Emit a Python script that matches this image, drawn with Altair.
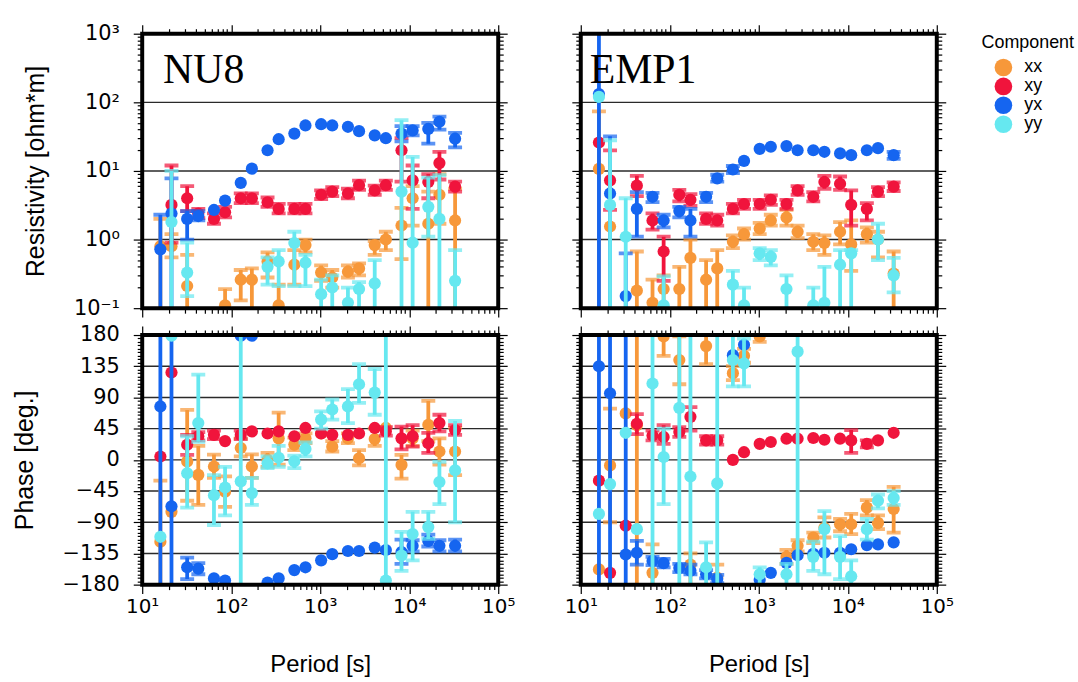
import altair as alt
import pandas as pd

N = None
periods = [16, 21.33, 32, 42.67, 64, 85.33, 128, 170.67, 256, 341.33, 512, 682.67,
           1024, 1365.33, 2048, 2730.67, 4096, 5461.33, 8192, 10922.67, 16384, 21845.33, 32768]
components = ["xx", "xy", "yx", "yy"]
comp_colors = ["#F7983A", "#F0143C", "#1565F0", "#66E8F0"]

# ---------------- NU8 apparent resistivity ----------------
nu8_rho_xx = [0.8, 0.8, 0.21, N, N, 0.11, 0.26, 0.26, 0.48, 0.11, 0.43, 0.83, 0.33, 0.28, 0.34, 0.38, 0.83, 1.0, 1.6, 4.0, 1.7, 4.5, 1.9]
nu8_rho_xx_lo = [0.05, 0.55, 0.05, N, N, 0.05, 0.13, 0.05, 0.28, 0.05, 0.22, 0.65, 0.25, 0.2, 0.28, 0.3, 0.6, 0.7, 0.52, 1.6, 0.05, 1.7, 0.05]
nu8_rho_xx_hi = [2.0, 1.2, 0.6, N, N, 0.19, 0.36, 0.38, 0.65, 0.22, 0.7, 1.0, 0.42, 0.36, 0.42, 0.45, 0.95, 1.3, 2.9, 6.0, 5.0, 9.0, 5.5]
nu8_rho_xy = [N, 3.2, 4.0, 2.4, 2.0, 2.5, 4.0, 4.0, 3.5, 2.8, 2.8, 2.8, 4.5, 5.0, 4.7, 6.2, 5.2, 6.2, 20, 7.3, 6.9, 13, 5.9]
nu8_rho_xy_lo = [N, 0.9, 2.6, 2.05, 1.7, 2.1, 3.4, 3.4, 3.0, 2.4, 2.4, 2.4, 3.9, 4.3, 4.0, 5.3, 4.5, 5.3, 7.0, 2.8, 4.0, 7.5, 5.0]
nu8_rho_xy_hi = [N, 12, 6.0, 2.8, 2.4, 3.0, 4.7, 4.7, 4.1, 3.3, 3.3, 3.3, 5.2, 5.8, 5.5, 7.2, 6.1, 7.2, 30, 12, 9.0, 19, 7.0]
nu8_rho_yx = [0.72, 2.4, 2.0, 2.2, 2.7, 3.7, 6.7, 10.8, 20, 29, 35, 46, 48, 46, 44, 38, 33, 30, 35, 39, 41, 52, 29.5]
nu8_rho_yx_lo = [0.05, 0.05, 1.0, 1.9, N, N, N, N, N, N, N, N, N, N, N, N, N, N, 27, 33, 25, 40, 22]
nu8_rho_yx_hi = [2.3, 7.8, 2.6, 2.6, N, N, N, N, N, N, N, N, N, N, N, N, N, N, 45, 45, 50, 62, 36]
nu8_rho_yy = [N, 1.8, 0.33, N, N, N, N, N, 0.4, 0.48, 0.89, 0.46, 0.16, 0.2, 0.12, 0.19, 0.23, N, 5.0, 0.9, 3.0, 2.0, 0.25]
nu8_rho_yy_lo = [N, 0.05, 0.15, N, N, N, N, N, 0.22, 0.21, 0.21, 0.21, 0.05, 0.05, 0.05, 0.05, 0.05, N, 0.05, 0.05, 1.1, 0.05, 0.05]
nu8_rho_yy_hi = [N, 10, 0.9, N, N, N, N, N, 0.55, 0.7, 1.3, 0.6, 0.26, 0.3, 0.2, 0.24, 0.5, N, 55, 16, 8.0, 8.7, 0.7]

# ---------------- NU8 phase ----------------
nu8_ph_xx = [-118, -75, -2.5, -21.7, -9.7, -46, 17, -9.7, 0, 31, 22, 31, 38, 19, 31, 2.3, 30, 46, -7.3, 31, 50.6, 12, 12]
nu8_ph_xx_lo = [-185, N, -59, -65, -26, -68, 5, -26, -10, -7, 14, 24, N, 12, 24, -8, 20, N, -27, 20, 27, -7, -22]
nu8_ph_xx_hi = [-30, N, 72, 20, 7.6, -24, 31, 8, 10, 68, 32, 38, N, 27, 38, 14, 45, N, 7, 42, 85, 31, 46]
nu8_ph_xy = [4.8, 126, 21.8, 34, 36, 27, 36, 41, 38, 41, 34, 46, 38, 36, 36, 38, 46, 41, 31, 34, 24, 53, 43]
nu8_ph_xy_lo = [N, N, 7, 28, 30, N, 30, N, N, N, N, N, N, N, N, N, N, 35, 15, 19, 10, 41, 36]
nu8_ph_xy_hi = [N, N, 36, 40, 42, N, 42, N, N, N, N, N, N, N, N, N, N, 47, 48, 50, 39, 65, 50]
nu8_ph_yx = [77, -67, -155, -157, -171, -174, 179, 179, -177, -171, -159, -155, -145, -136, -131.5, -131.5, -126.6, -130, -133, -124, -117, -124, -124]
nu8_ph_yx_lo = [-185, -185, -172, -165, N, N, N, N, N, N, N, N, N, N, N, N, N, N, -150, -132, -125, -132, -132]
nu8_ph_yx_hi = [185, 185, -141, -149, N, N, N, N, N, N, N, N, N, N, N, N, N, N, -115, -116, -108, -116, -115]
nu8_ph_yy = [-111, 179, -19.4, 53, -51, -40, -31, -48, -5, 3, -2, 15.5, 58, 72.6, 77, 109, 97, -174, -138, -107, -97, -32, -15]
nu8_ph_yy_lo = [N, N, -69, 26, -94, -80, -185, -65, -12, -10, -12, 5, 45, 58, 53, 82, 65, -185, -160, -145, -114, -64, -90]
nu8_ph_yy_hi = [N, N, 34, 123, -22, -10, 185, -26, 5, 20, 6, 25, 70, 87, 102, 138, 131, 185, -104, -75, -75, -3, 56]

# ---------------- EMP1 apparent resistivity ----------------
emp_rho_xx = [10.7, 1.55, N, 0.18, 0.12, 0.19, 0.19, 0.54, 0.26, 0.38, 0.93, 1.2, 1.45, 1.9, 2.1, 1.3, 0.93, 0.89, 1.3, 0.85, 1.2, 1.0, 0.32]
emp_rho_xx_lo = [0.05, N, N, 0.05, 0.05, 0.05, 0.05, 0.05, 0.05, 0.05, 0.75, 1.0, 1.2, 1.6, 1.6, 1.05, 0.7, 0.6, 0.85, 0.35, 0.9, 0.55, 0.05]
emp_rho_xx_hi = [74, N, N, 0.67, 0.26, 0.3, 0.4, 1.0, 0.5, 0.7, 1.15, 1.45, 1.75, 2.3, 2.7, 1.6, 1.2, 1.15, 1.8, 1.9, 1.5, 1.3, 0.67]
emp_rho_xy = [26, 7.3, N, 6.1, 1.9, 0.67, 4.5, 3.8, 2.0, 1.9, 2.8, 3.3, 3.3, 3.8, 3.3, 5.2, 4.2, 6.9, 6.5, 3.2, 2.8, 5.0, 5.9]
emp_rho_xy_lo = [N, 2.7, N, 4.3, 1.4, 0.25, 3.6, 3.1, 1.7, 1.6, 2.4, 2.8, 2.8, 3.2, 2.8, 4.5, 3.6, 5.5, 5.3, 1.6, 1.9, 4.3, 5.1]
emp_rho_xy_hi = [N, 20, N, 8.5, 2.4, 1.1, 5.3, 4.6, 2.4, 2.3, 3.3, 3.8, 3.8, 4.4, 3.8, 6.0, 4.9, 8.5, 8.3, 5.2, 3.4, 5.8, 6.8]
emp_rho_yx = [132, 4.7, 0.15, 2.8, 4.2, 1.9, 2.6, 1.9, 4.2, 7.8, 10.5, 14, 21, 22.5, 23, 20, 20, 19, 18, 17, 20, 21.5, 17]
emp_rho_yx_lo = [0.05, 0.05, 0.05, 1.1, 3.5, 1.5, 2.1, 1.1, 3.5, 7.0, 9.3, N, N, N, N, N, N, N, N, N, N, N, 15]
emp_rho_yx_hi = [2000, 32, 0.63, 4.9, 4.8, 2.3, 3.0, 2.8, 4.8, 8.8, 11.8, N, N, N, N, N, N, N, N, N, N, N, 19]
emp_rho_yy = [120, 3.2, 1.1, N, N, 0.11, N, N, N, N, 0.22, 0.11, 0.63, 0.56, 0.19, N, 0.11, 0.12, 0.43, 0.63, N, 1.0, 0.3]
emp_rho_yy_lo = [N, 0.05, 0.05, N, N, 0.05, N, N, N, N, 0.05, 0.05, 0.5, 0.42, 0.05, N, 0.05, 0.05, 0.05, 0.05, N, 0.5, 0.17]
emp_rho_yy_hi = [N, 28, 4.0, N, N, 0.29, N, N, N, N, 0.35, 0.2, 0.75, 0.7, 0.3, N, 0.2, 0.4, 0.7, 0.7, N, 1.7, 0.54]

# ---------------- EMP1 phase ----------------
emp_ph_xx = [-158, -8, 67, 50, -163, 178, 144, -151, 164, -170, 125, 150, 178, N, -140, -124, -112, -98, -93, -93, -69, -91, -71]
emp_ph_xx_lo = [N, -90, N, -185, -185, 150, 109, -185, 138, -185, 115, 140, 170, N, -150, -132, -120, -112, -103, -107, -80, -100, -105]
emp_ph_xx_hi = [N, 74, N, 185, -122, 185, 178, -135, 185, -151, 135, 160, 185, N, -130, -116, -105, -83, -85, -78, -58, -80, -39]
emp_ph_xy = [-30, -163, -95, 52, 35, 33, 40, 62, 28, 28, 0, 11, 23, 25.7, 30.5, 30.5, 31.5, 29, 30.5, 28, 23, 28, 39]
emp_ph_xy_lo = [N, N, N, 37, 28, 23, 33, 42, 22, 22, N, N, N, N, N, N, N, N, N, 10, 18, N, N]
emp_ph_xy_hi = [N, N, N, 66, 42, 50, 47, 76, 34, 34, N, N, N, N, N, N, N, N, N, 43, 28, N, N]
emp_ph_yx = [135, 96, -136.5, -134, -146, -149, -156, -160, -165, -172, 151, 166, -173, -163, -148.6, -137.5, -135.5, -134, -134, -129, -123, -122, -119]
emp_ph_yx_lo = [-185, -185, -185, -151, -152, -155, -162, -165, -171, -178, N, N, N, N, N, N, N, N, N, N, N, N, N]
emp_ph_yx_hi = [185, 185, 185, -117, -140, -143, -150, -151, -159, -166, N, N, N, N, N, N, N, N, N, N, N, N, N]
emp_ph_yy = [-78, -35, 39, -100, 110, 4, 75, -24, -155, -34, 144, 139, -165, N, -165, 156, -140, -100, -140, -168, -100, -59, -55]
emp_ph_yy_lo = [N, N, N, N, -185, -64, -185, -185, -185, -185, 106, 106, -185, N, -185, -185, -160, -165, -172, -185, -115, -70, -65]
emp_ph_yy_hi = [N, N, N, N, 185, 45, 185, 185, -119, 185, 185, 175, -155, N, -150, 185, -118, -74, -110, -145, -85, -50, -45]

panels_data = {
    ("NU8", "rho"): {"xx": (nu8_rho_xx, nu8_rho_xx_lo, nu8_rho_xx_hi), "xy": (nu8_rho_xy, nu8_rho_xy_lo, nu8_rho_xy_hi),
                     "yx": (nu8_rho_yx, nu8_rho_yx_lo, nu8_rho_yx_hi), "yy": (nu8_rho_yy, nu8_rho_yy_lo, nu8_rho_yy_hi)},
    ("NU8", "phase"): {"xx": (nu8_ph_xx, nu8_ph_xx_lo, nu8_ph_xx_hi), "xy": (nu8_ph_xy, nu8_ph_xy_lo, nu8_ph_xy_hi),
                       "yx": (nu8_ph_yx, nu8_ph_yx_lo, nu8_ph_yx_hi), "yy": (nu8_ph_yy, nu8_ph_yy_lo, nu8_ph_yy_hi)},
    ("EMP1", "rho"): {"xx": (emp_rho_xx, emp_rho_xx_lo, emp_rho_xx_hi), "xy": (emp_rho_xy, emp_rho_xy_lo, emp_rho_xy_hi),
                      "yx": (emp_rho_yx, emp_rho_yx_lo, emp_rho_yx_hi), "yy": (emp_rho_yy, emp_rho_yy_lo, emp_rho_yy_hi)},
    ("EMP1", "phase"): {"xx": (emp_ph_xx, emp_ph_xx_lo, emp_ph_xx_hi), "xy": (emp_ph_xy, emp_ph_xy_lo, emp_ph_xy_hi),
                        "yx": (emp_ph_yx, emp_ph_yx_lo, emp_ph_yx_hi), "yy": (emp_ph_yy, emp_ph_yy_lo, emp_ph_yy_hi)},
}

# ---------------- axis tick definitions ----------------
x_ticks = [k * 10 ** n for n in range(1, 5) for k in range(1, 10)] + [100000]
rho_ticks = [round(k * 10.0 ** n, 6) for n in range(-1, 3) for k in range(1, 10)] + [1000]
phase_ticks = list(range(-180, 181, 5))
rho_grid = [1, 10, 100]
phase_grid = [-135, -90, -45, 0, 45, 90, 135]

x_label_expr = ("datum.value == 10 ? '10¹' : datum.value == 100 ? '10²' : datum.value == 1000 ? '10³' : "
                "datum.value == 10000 ? '10⁴' : datum.value == 100000 ? '10⁵' : ''")
rho_label_expr = ("datum.value == 0.1 ? '10⁻¹' : datum.value == 1 ? '10⁰' : datum.value == 10 ? '10¹' : "
                  "datum.value == 100 ? '10²' : datum.value == 1000 ? '10³' : ''")
phase_label_expr = "datum.value % 45 == 0 ? format(datum.value, 'd') : ''"
x_major = "indexof([10,100,1000,10000,100000], datum.value) >= 0"
rho_major = "indexof([0.1,1,10,100,1000], datum.value) >= 0"
phase_major = "datum.value % 45 == 0"

COMMON = dict(domain=False, grid=False, tickColor="black", tickWidth=1.2, labelColor="black",
              labelOverlap=False, labelFlush=False, labelBound=False, titleColor="black",
              titleFontWeight="normal")

W = 358
H_TOP = 276
H_BOT = 251


def xaxis(orient, labels, title):
    kw = dict(orient=orient, values=x_ticks, labels=labels,
              tickSize={"condition": {"test": x_major, "value": 9}, "value": 5},
              title=title, labelPadding=3, labelFont="DejaVu Sans", labelFontSize=20,
              titleFont="Liberation Sans", titleFontSize=24, titlePadding=36, **COMMON)
    if labels:
        kw["labelExpr"] = x_label_expr
    return alt.Axis(**kw)


def yaxis(orient, rho, labels, title):
    if rho:
        vals, expr, major = rho_ticks, rho_label_expr, rho_major
    else:
        vals, expr, major = phase_ticks, phase_label_expr, phase_major
    kw = dict(orient=orient, values=vals, labels=labels,
              tickSize={"condition": {"test": major, "value": 9}, "value": 5},
              title=title, labelPadding=14, labelFont="DejaVu Sans", labelFontSize=21,
              titleFont="Liberation Sans", titleFontSize=25, titlePadding=25, **COMMON)
    if labels:
        kw["labelExpr"] = expr
    return alt.Axis(**kw)


cscale = alt.Scale(domain=components, range=comp_colors)


def panel(station, qty, is_left, is_bottom, text_x):
    rho = qty == "rho"
    H = H_TOP if rho else H_BOT
    xs = alt.Scale(type="log", domain=[10, 100000], nice=False)
    if rho:
        ys = alt.Scale(type="log", domain=[0.1, 1000], nice=False)
        ytitle = "Resistivity [ohm*m]" if is_left else None
    else:
        ys = alt.Scale(domain=[-180, 180], nice=False, zero=False)
        ytitle = "Phase [deg.]" if is_left else None
    xa = xaxis("bottom", is_bottom, "Period [s]" if is_bottom else None)
    ya = yaxis("left", rho, is_left, ytitle)
    X = alt.X("period:Q", scale=xs, axis=xa)

    layers = []
    grid_df = pd.DataFrame({"g": rho_grid if rho else phase_grid})
    layers.append(alt.Chart(grid_df).mark_rule(color="#2a2a2a", strokeWidth=1.4)
                  .encode(y=alt.Y("g:Q", scale=ys, axis=ya)))

    d = panels_data[(station, qty)]
    for comp, col in zip(components, comp_colors):
        val, lo, hi = d[comp]
        df = pd.DataFrame({"period": periods, "val": val, "lo": lo, "hi": hi})
        df["comp"] = comp
        err = df.dropna(subset=["lo", "hi"])[["period", "lo", "hi"]]
        pts = df.dropna(subset=["val"])[["period", "val", "comp"]]
        layers.append(alt.Chart(err).mark_rule(color=col, strokeWidth=3.8, clip=True)
                      .encode(x=X, y=alt.Y("lo:Q", scale=ys, axis=ya), y2="hi:Q"))
        for f in ["lo", "hi"]:
            layers.append(alt.Chart(err).mark_tick(color=col, orient="horizontal", size=14,
                                                   thickness=3.8, clip=True)
                          .encode(x=X, y=alt.Y(f + ":Q", scale=ys, axis=ya)))
        layers.append(alt.Chart(pts).mark_circle(size=150, opacity=1, clip=True)
                      .encode(x=X, y=alt.Y("val:Q", scale=ys, axis=ya),
                              color=alt.Color("comp:N", scale=cscale, title="Component")))

    if rho:
        layers.append(alt.Chart(pd.DataFrame({"name": [station]}))
                      .mark_text(font="Liberation Serif", fontSize=42, align="left",
                                 baseline="alphabetic", color="black")
                      .encode(text="name:N", x=alt.value(text_x), y=alt.value(50)))

    layers.append(alt.Chart(pd.DataFrame({"a": [0]}))
                  .mark_rect(fillOpacity=0, stroke="black", strokeWidth=4)
                  .encode(x=alt.value(0), x2=alt.value(W), y=alt.value(0), y2=alt.value(H)))

    inner = alt.layer(*layers)
    dummy = pd.DataFrame({"period": [100], "val": [1 if rho else 0]})
    ax_layer = alt.Chart(dummy).mark_point(opacity=0).encode(
        x=alt.X("period:Q", scale=xs, axis=xaxis("top", False, None)),
        y=alt.Y("val:Q", scale=ys, axis=yaxis("right", rho, False, None)))
    return (alt.layer(inner, ax_layer)
            .resolve_axis(x="independent", y="independent")
            .properties(width=W, height=H))


p1 = panel("NU8", "rho", True, False, 21)
p2 = panel("EMP1", "rho", False, False, 9)
p3 = panel("NU8", "phase", True, True, 21)
p4 = panel("EMP1", "phase", False, True, 9)

chart = (alt.concat(p1, p2, p3, p4, columns=2, spacing={"row": 27, "column": 83}, bounds="flush")
         .resolve_scale(color="shared")
         .properties(padding={"left": 12, "top": 21, "right": 3, "bottom": 2})
         .configure_view(strokeWidth=0)
         .configure_legend(titleFont="Liberation Sans", titleFontSize=18, titleFontWeight="normal",
                           titleColor="black", labelFont="Liberation Sans", labelFontSize=18,
                           labelColor="black", symbolSize=314, symbolType="circle",
                           symbolStrokeWidth=0, symbolOffset=13, labelOffset=12, rowPadding=1,
                           titlePadding=7, offset=28, padding=0))

chart.save("out.html", embed_options={"renderer": "svg", "actions": False})
